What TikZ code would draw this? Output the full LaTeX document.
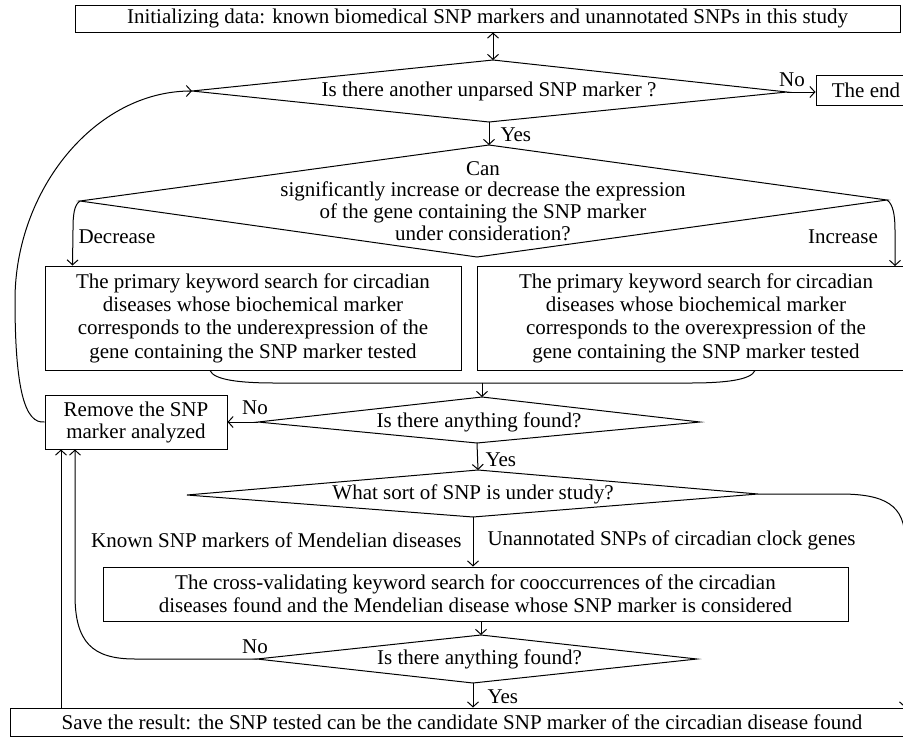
\documentclass[tikz,border=0pt]{standalone}
\usepackage{fontspec}
\setmainfont{Liberation Serif}
\usetikzlibrary{arrows.meta}
\begin{document}
\begin{tikzpicture}[x=1pt,y=-1pt,line width=1pt,
  font=\fontsize{21}{23.3}\selectfont,
  box/.style={draw,rectangle,inner sep=0pt,align=center},
  txt/.style={inner sep=0pt,align=center},
  arr/.style={-{Straight Barb[length=5pt,width=11pt]}},
  darr/.style={{Straight Barb[length=5pt,width=11pt]}-{Straight Barb[length=5pt,width=11pt]}}]
\useasboundingbox (0,0) rectangle (903,737);

% boxes
\node[box,minimum width=825,minimum height=27] (init) at (487.5,18.5)
  {Initializing data: known biomedical SNP markers and unannotated SNPs in this study};
\node[box,minimum width=100,minimum height=30] (theend) at (866,90) {The end};
\node[box,minimum width=416,minimum height=104] (leftbox) at (253,318)
  {The primary keyword search for circadian\\diseases whose biochemical marker\\corresponds to the underexpression of the\\gene containing the SNP marker tested};
\node[box,minimum width=438,minimum height=104] (rightbox) at (696,318)
  {The primary keyword search for circadian\\diseases whose biochemical marker\\corresponds to the overexpression of the\\gene containing the SNP marker tested};
\node[box,minimum width=182,minimum height=54,font=\fontsize{21}{22}\selectfont] (remove) at (136,422)
  {Remove the SNP\\marker analyzed};
\node[box,minimum width=745,minimum height=54] (cross) at (475.5,594)
  {The cross-validating keyword search for cooccurrences of the circadian\\diseases found and the Mendelian disease whose SNP marker is considered};
\node[box,minimum width=904,minimum height=28] (save) at (462,722)
  {Save the result: the SNP tested can be the candidate SNP marker of the circadian disease found};

% diamonds
\coordinate (d1t) at (493,60);  \coordinate (d1r) at (787,92);
\coordinate (d1b) at (489,122); \coordinate (d1l) at (192,91);
\coordinate (d2t) at (489,145); \coordinate (d2r) at (887,200);
\coordinate (d2b) at (477,257); \coordinate (d2l) at (80,201);
\coordinate (d3t) at (482,397); \coordinate (d3r) at (700,422);
\coordinate (d3b) at (477,443); \coordinate (d3l) at (258,422);
\coordinate (d4t) at (478,470); \coordinate (d4r) at (758,494);
\coordinate (d4b) at (473,517); \coordinate (d4l) at (187,495);
\coordinate (d5t) at (481,635); \coordinate (d5r) at (697,659);
\coordinate (d5b) at (473,683); \coordinate (d5l) at (257,659);
\draw (d1t) -- (d1r) -- (d1b) -- (d1l) -- cycle;
\draw (d2t) -- (d2r) -- (d2b) -- (d2l) -- cycle;
\draw (d3t) -- (d3r) -- (d3b) -- (d3l) -- cycle;
\draw (d4t) -- (d4r) -- (d4b) -- (d4l) -- cycle;
\draw (d5t) -- (d5r) -- (d5b) -- (d5l) -- cycle;
\node[txt] (q1) at (489,91) {Is there another unparsed SNP marker ?};
\node[txt,font=\fontsize{21}{21.7}\selectfont] (q2) at (483,201)
  {Can\\significantly increase or decrease the expression\\of the gene containing the SNP marker\\under consideration?};
\node[txt] (q3) at (479,422) {Is there anything found?};
\node[txt] (q4) at (473,494) {What sort of SNP is under study?};
\node[txt] (q5) at (479.5,659) {Is there anything found?};

% helper coordinates
\coordinate (lx) at (61,0);
\coordinate (rx) at (905,0);
\coordinate (merge) at (482,383);

% connectors
\draw[darr] (d1t |- init.south) -- (d1t);
\draw[arr] (d1r) -- (d1r -| theend.west);
\draw[arr] (d1b) -- (d2t);
\draw[arr] (d2l) .. controls (74,205) and (73,215) .. (73,230) -- ([xshift=28]leftbox.north west);
\draw[arr] (d2r) .. controls (893,204) and (895,215) .. (895,230) -- (895,266);
\draw ([xshift=-43]leftbox.south) .. controls (214,380) and (240,383) .. (275,383) -- (merge);
\draw ([xshift=59]rightbox.south) .. controls (751,380) and (725,383) .. (690,383) -- (merge);
\draw[arr] (merge) -- (d3t);
\draw[arr] (d3l) -- (d3l -| remove.east);
\draw[arr] (d3b) -- (d4t);
\draw[arr] (d4b) -- (d4b |- cross.north);
\draw[arr] (d4r) -- (840,494) .. controls (885,494) and (905,505) .. (905,540) -- (rx |- save.north);
\draw[arr] (d5t |- cross.south) -- (d5t);
\draw[arr] (d5b) -- (d5b |- save.north);
\draw[arr] (d5l) -- (135,659) .. controls (92,659) and (75,642) .. (75,595) -- ([xshift=-61]remove.south);
\draw[arr] (lx |- save.north) -- (lx |- remove.south);
\draw[arr] (remove.west) .. controls (25,424) and (15,390) .. (15,300) .. controls (15,190) and (95,91) .. (d1l);

% labels
\node[txt] (no1) at (792,80) {No};
\node[txt,anchor=west] (yes1) at (500,135) {Yes};
\node[txt,anchor=west] (dec) at (78,237) {Decrease};
\node[txt] (inc) at (843,237) {Increase};
\node[txt] (no2) at (255,408) {No};
\node[txt,anchor=west] (yes2) at (485,460) {Yes};
\node[txt,anchor=east] (known) at (462,540) {Known SNP markers of Mendelian diseases};
\node[txt,anchor=west] (unann) at (487,540) {Unannotated SNPs of circadian clock genes};
\node[txt] (no3) at (255,647) {No};
\node[txt,anchor=west] (yes3) at (487,697) {Yes};
\end{tikzpicture}
\end{document}
